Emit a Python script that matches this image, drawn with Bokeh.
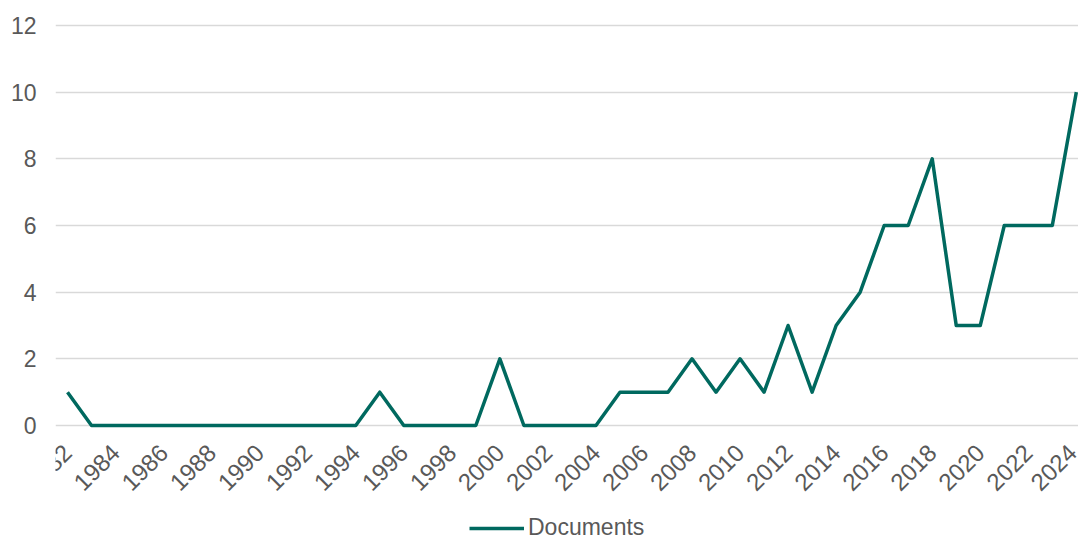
import math
from bokeh.plotting import figure
from bokeh.models import Range1d, FixedTicker, Legend, LegendItem
from bokeh.embed import file_html
from bokeh.resources import INLINE

years = list(range(1982, 2025))
documents = [1, 0, 0, 0, 0, 0, 0, 0, 0, 0, 0, 0, 0,
             1, 0, 0, 0, 0,
             2, 0, 0, 0, 0,
             1, 1, 1, 2, 1, 2, 1, 3, 1, 3, 4, 6, 6, 8, 3, 3, 6, 6, 6, 10]
x_ticks = list(range(1982, 2025, 2))
y_ticks = [0, 2, 4, 6, 8, 10, 12]

FONT = "Liberation Sans"
GREY = "#595959"
LINE = "#00695F"

p = figure(frame_width=1023, frame_height=519,
           output_backend="svg", toolbar_location=None,
           x_range=Range1d(1981.5, 2024.09), y_range=Range1d(-3.51, 12.06),
           min_border_left=55, min_border_right=0, min_border_top=23,
           min_border_bottom=0)
p.outline_line_color = None
p.background_fill_color = "white"
p.border_fill_color = "white"

r = p.line(years, documents, line_color=LINE, line_width=3.5, line_join="round")

p.xaxis.ticker = FixedTicker(ticks=x_ticks)
p.yaxis.ticker = FixedTicker(ticks=y_ticks)
p.xaxis.fixed_location = 0
for ax in (p.xaxis[0], p.yaxis[0]):
    ax.axis_line_color = None
    ax.major_tick_line_color = None
    ax.minor_tick_line_color = None
    ax.major_tick_out = 0
    ax.major_tick_in = 0
    ax.minor_tick_out = 0
    ax.minor_tick_in = 0
    ax.axis_label = None
    ax.axis_label_standoff = 0
    ax.axis_label_text_font_size = "0px"
    ax.major_label_text_font = FONT
    ax.major_label_text_color = GREY
p.xaxis.major_label_text_font_size = "24px"
p.yaxis.major_label_text_font_size = "23px"
p.xaxis.major_label_orientation = math.pi / 4
p.xaxis.major_label_standoff = 23
p.yaxis.major_label_standoff = 19

p.xgrid.grid_line_color = None
p.ygrid.grid_line_color = "#D9D9D9"
p.ygrid.grid_line_width = 1.5

legend = Legend(items=[LegendItem(label="Documents", renderers=[r])],
                orientation="horizontal", location=(414, 1),
                label_text_font=FONT, label_text_font_size="23px",
                label_text_color=GREY, glyph_width=55, glyph_height=20,
                border_line_color=None, background_fill_alpha=0,
                margin=0, padding=2, label_standoff=4)
p.add_layout(legend, "center")

open("out.html", "w").write(file_html(p, INLINE))
